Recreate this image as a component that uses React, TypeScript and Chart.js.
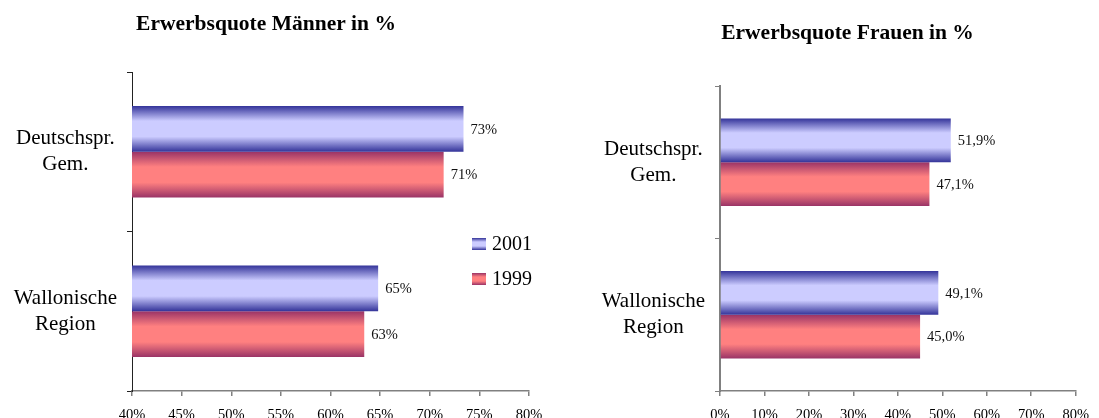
import React, { useEffect, useRef } from "react";
import { Chart, registerables } from "chart.js";

Chart.register(...registerables);

// ---- data ----
const categories: string[][] = [["Deutschspr.", "Gem."], ["Wallonische", "Region"]];
const seriesLabels = ["2001", "1999"];
const men2001 = [73.4, 64.8];
const men1999 = [71.4, 63.4];
const women2001 = [51.9, 49.1];
const women1999 = [47.1, 45.0];
const menTitle = "Erwerbsquote Männer in %";
const womenTitle = "Erwerbsquote Frauen in %";
const menAxis = { min: 40, max: 80, step: 5 };
const womenAxis = { min: 0, max: 80, step: 10 };

// ---- styles ----
const SERIF = '"Liberation Serif", "Times New Roman", Times, serif';
const BLUE = ["#333399", "#ccccff"];
const RED = ["#993366", "#ff8080"];
const CAT_PCT = 0.575;

function makeGrad(c: CanvasRenderingContext2D, top: number, bottom: number, pal: string[]) {
  const g = c.createLinearGradient(0, top, 0, bottom);
  g.addColorStop(0, pal[0]);
  g.addColorStop(0.33, pal[1]);
  g.addColorStop(0.67, pal[1]);
  g.addColorStop(1, pal[0]);
  return g;
}

function barFill(pal: string[]) {
  return (ctx: any) => {
    const chart = ctx.chart;
    const ys = chart.scales && chart.scales.y;
    if (!ys || ctx.dataIndex == null || !isFinite(ys.top) || !isFinite(ys.bottom)) return pal[1];
    const n = chart.data.labels.length;
    const cat = (ys.bottom - ys.top) / n;
    const full = cat * CAT_PCT;
    const nd = chart.data.datasets.length;
    const each = full / nd;
    const center = ys.getPixelForValue(ctx.dataIndex);
    const top = center - full / 2 + ctx.datasetIndex * each;
    return makeGrad(chart.ctx, top, top + each, pal);
  };
}

function valueLabels(fmt: (v: number) => string) {
  return {
    id: "valueLabels",
    afterDatasetsDraw(chart: any) {
      const c: CanvasRenderingContext2D = chart.ctx;
      c.save();
      c.font = `14.5px ${SERIF}`;
      c.fillStyle = "#111";
      c.textAlign = "left";
      c.textBaseline = "middle";
      chart.data.datasets.forEach((ds: any, di: number) => {
        const meta = chart.getDatasetMeta(di);
        meta.data.forEach((el: any, i: number) => {
          c.fillText(fmt(ds.data[i]), el.x + 7, el.y + 1);
        });
      });
      c.restore();
    },
  };
}

function panelTitle(text: string, x: number, baseline: number) {
  return {
    id: "panelTitle",
    afterDraw(chart: any) {
      const c: CanvasRenderingContext2D = chart.ctx;
      c.save();
      c.font = `bold 21.5px ${SERIF}`;
      c.fillStyle = "#000";
      c.textAlign = "center";
      c.textBaseline = "alphabetic";
      c.fillText(text, x, baseline);
      c.restore();
    },
  };
}

const boxLegend = {
  id: "boxLegend",
  afterDraw(chart: any) {
    const { left, top } = chart.chartArea;
    const c: CanvasRenderingContext2D = chart.ctx;
    const pals = [BLUE, RED];
    c.save();
    chart.data.datasets.forEach((ds: any, i: number) => {
      const bx = left + 340;
      const by = top + 166 + i * 35;
      c.fillStyle = makeGrad(c, by, by + 12, pals[i]);
      c.fillRect(bx, by, 14, 12);
      c.fillStyle = "#000";
      c.font = `20px ${SERIF}`;
      c.textBaseline = "middle";
      c.textAlign = "left";
      c.fillText(ds.label, bx + 20, by + 7);
    });
    c.restore();
  },
};

function buildConfig(cfg: any) {
  return {
    type: "bar" as const,
    data: {
      labels: categories,
      datasets: [
        { label: seriesLabels[0], data: cfg.d2001, backgroundColor: barFill(BLUE), categoryPercentage: CAT_PCT, barPercentage: 1, borderWidth: 0 },
        { label: seriesLabels[1], data: cfg.d1999, backgroundColor: barFill(RED), categoryPercentage: CAT_PCT, barPercentage: 1, borderWidth: 0 },
      ],
    },
    options: {
      indexAxis: "y",
      animation: false,
      responsive: false,
      maintainAspectRatio: false,
      events: [],
      layout: { padding: cfg.padding },
      plugins: {
        legend: { display: false },
        tooltip: { enabled: false },
        title: { display: false },
      },
      scales: {
        x: {
          min: cfg.axis.min,
          max: cfg.axis.max,
          ticks: {
            stepSize: cfg.axis.step,
            callback: (v: any) => v + "%",
            color: "#000",
            font: { family: SERIF, size: 14.5 },
            padding: 10,
            maxRotation: 0,
            autoSkip: false,
          },
          grid: { drawOnChartArea: false, drawTicks: true, tickLength: 5, color: "#808080", lineWidth: 1.5 },
          border: { display: true, color: "#808080", width: 1.5 },
          afterFit: (s: any) => { s.height = 40; },
        },
        y: {
          ticks: {
            color: "#000",
            font: { family: SERIF, size: 21, lineHeight: 1.22 },
            padding: 10,
            crossAlign: "center",
          },
          grid: { drawOnChartArea: false, drawTicks: true, tickLength: 5, color: cfg.yColor, offset: true },
          border: { display: true, color: cfg.yColor, width: cfg.yWidth },
          afterFit: (s: any) => { s.width = cfg.yAxisWidth; },
        },
      },
    },
    plugins: cfg.plugins,
  };
}

function BarPanel(props: { cfg: any; width: number; height: number; left: number }) {
  const ref = useRef<HTMLCanvasElement>(null);
  useEffect(() => {
    if (!ref.current) return;
    const chart = new Chart(ref.current, buildConfig(props.cfg) as any);
    return () => chart.destroy();
  }, []);
  return (
    <div style={{ position: "absolute", left: props.left, top: 0, width: props.width, height: props.height }}>
      <canvas ref={ref} width={props.width} height={props.height} style={{ width: props.width, height: props.height, display: "block" }} />
    </div>
  );
}

const menCfg = {
  d2001: men2001,
  d1999: men1999,
  axis: menAxis,
  padding: { left: 0, right: 31, top: 72, bottom: 9 },
  yAxisWidth: 132,
  yColor: "#222",
  yWidth: 1,
  plugins: [valueLabels((v) => Math.round(v) + "%"), boxLegend, panelTitle(menTitle, 266, 30)],
};

const womenCfg = {
  d2001: women2001,
  d1999: women1999,
  axis: womenAxis,
  padding: { left: 0, right: 12, top: 86, bottom: 9 },
  yAxisWidth: 160,
  yColor: "#808080",
  yWidth: 2,
  plugins: [valueLabels((v) => v.toFixed(1).replace(".", ",") + "%"), panelTitle(womenTitle, 287.5, 39)],
};

export default function App() {
  return (
    <div style={{ position: "fixed", left: 0, top: 0, width: 1099, height: 418, overflow: "hidden", background: "#fff" }}>
      <BarPanel cfg={menCfg} left={0} width={560} height={440} />
      <BarPanel cfg={womenCfg} left={560} width={539} height={440} />
    </div>
  );
}
